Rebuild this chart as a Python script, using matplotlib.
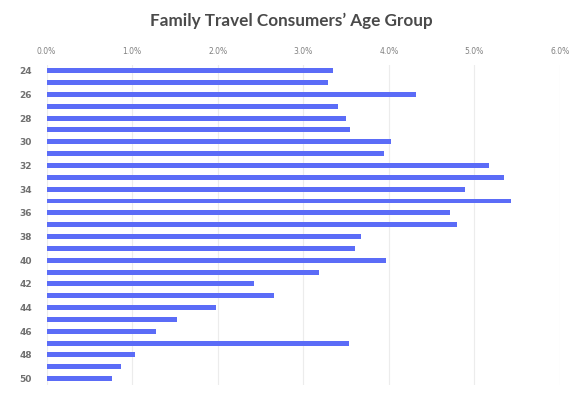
import matplotlib.pyplot as plt

ages = list(range(24, 51))
shares = [3.35, 3.29, 4.32, 3.41, 3.50, 3.55, 4.02, 3.94, 5.17, 5.34,
          4.89, 5.43, 4.71, 4.80, 3.67, 3.60, 3.97, 3.18, 2.43, 2.66,
          1.98, 1.53, 1.28, 3.53, 1.03, 0.87, 0.77]
x_ticks = [0, 1, 2, 3, 4, 5, 6]
x_tick_labels = ['0.0%', '1.0%', '2.0%', '3.0%', '4.0%', '5.0%', '6.0%']
y_tick_labels = [str(a) for a in ages[::2]]

fig = plt.figure(figsize=(5.82, 3.96), dpi=100)
ax = fig.add_axes([0.0799, 0.0288, 0.8823, 0.8076])

ax.barh(ages, shares, height=0.42, color='#5b6cf7', zorder=3)

ax.set_xlim(0, 6)
ax.set_ylim(50.5, 23.5)
ax.xaxis.tick_top()
ax.set_xticks(x_ticks)
ax.set_xticklabels(x_tick_labels, fontsize=5.5, color='#808080')
ax.set_yticks(ages[::2])
ax.set_yticklabels(y_tick_labels, fontsize=6.5, color='#707070', fontweight='bold')
ax.tick_params(axis='both', length=0)
ax.tick_params(axis='x', pad=6)
ax.tick_params(axis='y', pad=10.5)
ax.grid(axis='x', color='#ececec', linewidth=0.8, zorder=0)
for s in ax.spines.values():
    s.set_visible(False)

fig.text(0.50, 0.947, 'Family Travel Consumers\u2019 Age Group', ha='center', va='center',
         fontsize=12.3, fontweight='bold', color='#4a4a4a', family='Lato')

fig.savefig('out.png', dpi=100)
